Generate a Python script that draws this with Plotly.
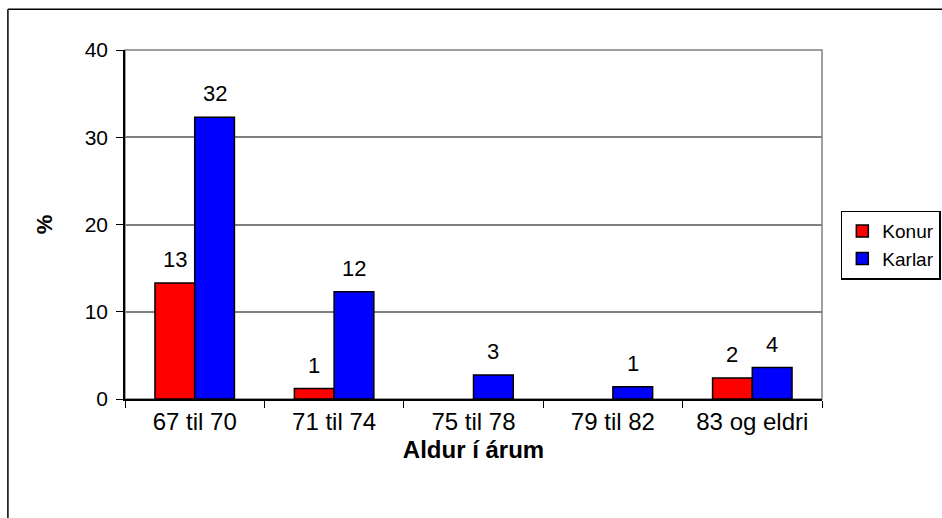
import plotly.graph_objects as go

# age groups and share (%) by sex
categories = ["67 til 70", "71 til 74", "75 til 78", "79 til 82", "83 og eldri"]
konur = [13.3, 1.2, 0, 0, 2.4]
karlar = [32.3, 12.3, 2.75, 1.4, 3.6]
y_ticks = [0, 10, 20, 30, 40]

FONT = "Liberation Sans, Arial, sans-serif"

fig = go.Figure()
for name, vals, color in [("Konur", konur, "#ff0000"), ("Karlar", karlar, "#0000ff")]:
    fig.add_trace(go.Bar(
        x=categories,
        y=vals,
        name=name,
        # no outline on empty bars, as in the original
        marker=dict(color=color, line=dict(color="black",
                                           width=[1.5 if v > 0 else 0 for v in vals])),
        offsetgroup=name,
    ))

# value labels above bars (Excel style, skipped for empty bars)
for i, cat in enumerate(categories):
    for vals, shift in [(konur, -0.5), (karlar, 0.5)]:
        v = vals[i]
        if v <= 0:
            continue
        fig.add_annotation(
            x=i + shift * (1 - 0.43) / 2, y=v, xref="x", yref="y",
            text=f"{v:.0f}", showarrow=False, yanchor="bottom", yshift=9,
            font=dict(size=22, color="black", family=FONT),
        )

# plot-area border (grey) and outer chart frame
fig.add_shape(type="rect", xref="paper", yref="paper", x0=0, y0=0, x1=1, y1=1,
              line=dict(color="#808080", width=1.5), layer="below")
fig.add_shape(type="line", xref="paper", yref="paper", x0=-0.168, y0=1.117, x1=1.5, y1=1.117,
              line=dict(color="black", width=1.5))
fig.add_shape(type="line", xref="paper", yref="paper", x0=-0.168, y0=-0.5, x1=-0.168, y1=1.117,
              line=dict(color="black", width=1.5))

fig.update_layout(
    width=942, height=518,
    margin=dict(l=125, r=120, t=50, b=119, autoexpand=False),
    paper_bgcolor="white", plot_bgcolor="white",
    font=dict(family=FONT, size=20, color="black"),
    barmode="group", bargap=0.43, bargroupgap=0,
    showlegend=True,
    legend=dict(
        x=1.027, y=0.54, xanchor="left", yanchor="top",
        bordercolor="black", borderwidth=1.5,
        font=dict(size=19), itemwidth=30, tracegroupgap=0,
    ),
    xaxis=dict(
        type="category", showline=True, linecolor="black", linewidth=1.5,
        ticks="outside", tickson="boundaries", ticklen=7, tickcolor="black",
        tickfont=dict(size=24),
        title=dict(text="<b>Aldur í árum</b>", font=dict(size=24), standoff=8),
        showgrid=False,
    ),
    yaxis=dict(
        range=[0, 40], tickvals=y_ticks, showline=True, linecolor="black", linewidth=1.5,
        ticks="outside", ticklen=7, tickcolor="black", ticklabelstandoff=4,
        tickfont=dict(size=21),
        showgrid=True, gridcolor="#808080", gridwidth=1.5, zeroline=False,
        title=dict(text="<b>%</b>", font=dict(size=22), standoff=26),
    ),
)

fig.write_html("out.html", config={"displayModeBar": False},
               post_script="document.body.style.margin='0';")
